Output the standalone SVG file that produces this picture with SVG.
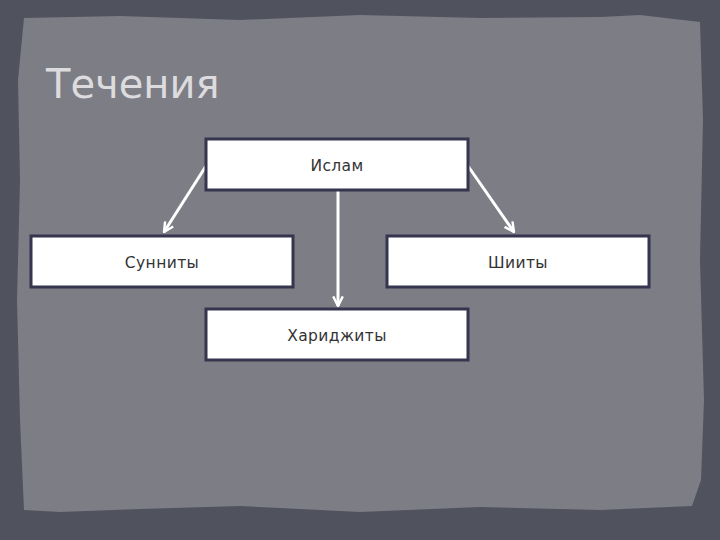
<svg xmlns="http://www.w3.org/2000/svg" width="720" height="540" viewBox="0 0 720 540">
<style>
.box{fill:#ffffff;stroke:#35354f;stroke-width:3}
.lbl{font-family:"DejaVu Sans",sans-serif;font-size:15.5px;letter-spacing:0.4px;fill:#333333;text-anchor:middle}
.con{stroke:#ffffff;stroke-width:3;fill:none}
</style>
<defs>
<marker id="ah" viewBox="0 0 10 10" refX="9" refY="5" markerWidth="4" markerHeight="4" markerUnits="strokeWidth" orient="auto">
<path d="M1,1 L9,5 L1,9" fill="none" stroke="#ffffff" stroke-width="2"/>
</marker>
</defs>
<rect x="0" y="0" width="720" height="540" fill="#50525e"/>
<path d="M24,18 L120,16 L240,20 L360,15 L480,18 L600,17 L640,15 L700,22 L703,120 L700,260 L704,400 L701,480 L692,506 L600,510 L480,507 L360,512 L240,506 L140,509 L60,512 L24,510 L20,420 L17,300 L20,180 L18,80 Z" fill="#7c7d85"/>
<text x="46" y="98" font-family="DejaVu Sans,sans-serif" font-size="40" fill="#dcdcdf">Течения</text>
<g id="connectors">
<line class="con" x1="206" y1="166" x2="164" y2="232" marker-end="url(#ah)"/>
<line class="con" x1="468" y1="166" x2="514" y2="232" marker-end="url(#ah)"/>
<line class="con" x1="338" y1="191" x2="338" y2="306" marker-end="url(#ah)"/>
</g>
<g id="islam"><rect class="box" x="206" y="139" width="262" height="51"/><text class="lbl" x="337" y="171">Ислам</text></g>
<g id="sunni"><rect class="box" x="31" y="236" width="262" height="51"/><text class="lbl" x="162" y="268">Сунниты</text></g>
<g id="shia"><rect class="box" x="387" y="236" width="262" height="51"/><text class="lbl" x="518" y="268">Шииты</text></g>
<g id="kharijites"><rect class="box" x="206" y="309" width="262" height="51"/><text class="lbl" x="337" y="341">Хариджиты</text></g>
</svg>
